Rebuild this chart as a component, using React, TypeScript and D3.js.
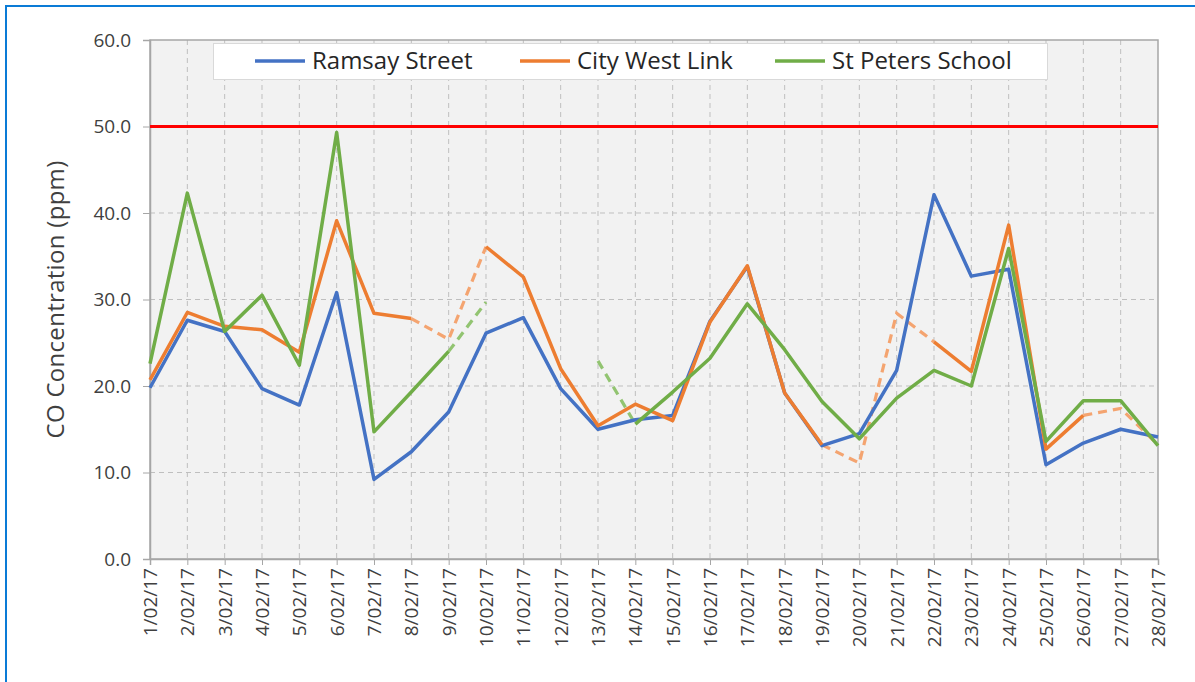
import React, { useRef, useEffect } from 'react';
import * as d3 from 'd3';

const dates = [
  '1/02/17', '2/02/17', '3/02/17', '4/02/17', '5/02/17', '6/02/17', '7/02/17',
  '8/02/17', '9/02/17', '10/02/17', '11/02/17', '12/02/17', '13/02/17', '14/02/17',
  '15/02/17', '16/02/17', '17/02/17', '18/02/17', '19/02/17', '20/02/17', '21/02/17',
  '22/02/17', '23/02/17', '24/02/17', '25/02/17', '26/02/17', '27/02/17', '28/02/17',
];

const ramsay = [
  19.8, 27.6, 26.3, 19.7, 17.8, 30.8, 9.2, 12.4, 17.0, 26.1, 27.9, 19.7, 15.0, 16.1,
  16.6, 27.5, 33.8, 19.2, 13.1, 14.5, 21.8, 42.1, 32.7, 33.5, 10.9, 13.4, 15.0, 14.1,
];

const cityWest = [
  20.7, 28.5, 26.9, 26.5, 23.9, 39.1, 28.4, 27.8, null, 36.1, 32.6, 22.0, 15.4, 17.9,
  16.0, 27.4, 33.9, 19.2, 13.2, null, null, 25.1, 21.7, 38.6, 12.7, 16.6, null, null,
];

const cityWestDashed = [
  null, null, null, null, null, null, null, 27.8, 25.4, 36.1, null, null, null, null,
  null, null, null, null, 13.2, 11.1, 28.4, 25.1, null, null, null, 16.6, 17.4, 13.2,
];

const stPeters = [
  22.6, 42.3, 26.3, 30.5, 22.4, 49.3, 14.7, 19.3, 24.0, null, null, null, null, 15.6,
  19.3, 23.2, 29.5, 24.2, 18.2, 13.9, 18.6, 21.8, 20.0, 35.9, 13.6, 18.3, 18.3, 13.1,
];

const stPetersDashed = [
  null, null, null, null, null, null, null, null, 24.0, 29.7, null, null, 22.9, 15.6,
  null, null, null, null, null, null, null, null, null, null, null, null, null, null,
];

const yTicks = [0, 10, 20, 30, 40, 50, 60];
const limit = 50;

const seriesNames = ['Ramsay Street', 'City West Link', 'St Peters School'];
const colors = ['#4472c4', '#ed7d31', '#70ad47'];
const dashedColors = ['#4472c4', '#f4a470', '#92c471'];

const FONT = '"Open Sans", sans-serif';

const Chart = ({ width, height }) => {
  const ref = useRef(null);

  useEffect(() => {
    const svg = d3.select(ref.current)
      .attr('width', width)
      .attr('height', height)
      .style('display', 'block');

    svg.selectAll('*').remove();

    const left = 150, right = 1158, top = 40, bottom = 559;

    const x = d3.scalePoint()
      .domain(dates)
      .range([left, right]);

    const y = d3.scaleLinear()
      .domain([0, 60])
      .range([bottom, top]);

    svg.append('rect')
      .attr('x', left).attr('y', top)
      .attr('width', right - left).attr('height', bottom - top)
      .attr('fill', '#f2f2f2');

    // grid
    svg.append('g')
      .selectAll('line')
      .data(yTicks.filter((t) => t > 0 && t < 60))
      .enter()
      .append('line')
      .attr('x1', left).attr('x2', right)
      .attr('y1', (d) => y(d)).attr('y2', (d) => y(d))
      .attr('stroke', '#bfbfbf')
      .attr('stroke-width', 1)
      .attr('stroke-dasharray', '5,4');

    svg.append('g')
      .selectAll('line')
      .data(dates.slice(1, -1))
      .enter()
      .append('line')
      .attr('x1', (d) => x(d)).attr('x2', (d) => x(d))
      .attr('y1', top).attr('y2', bottom)
      .attr('stroke', '#bfbfbf')
      .attr('stroke-width', 1)
      .attr('stroke-dasharray', '5,4');

    // plot border
    svg.append('rect')
      .attr('x', left).attr('y', top)
      .attr('width', right - left).attr('height', bottom - top)
      .attr('fill', 'none')
      .attr('stroke', '#a6a6a6')
      .attr('stroke-width', 1.5);

    // y axis
    const yAxis = svg.append('g')
      .attr('transform', `translate(${left}, 0)`)
      .call(d3.axisLeft(y).tickValues(yTicks).tickSize(7).tickPadding(12).tickFormat(d3.format('.1f')));
    yAxis.select('.domain').attr('stroke', '#a6a6a6').attr('stroke-width', 1.5);
    yAxis.selectAll('.tick line').attr('stroke', '#a6a6a6');
    yAxis.selectAll('.tick text')
      .attr('fill', '#404040')
      .style('font-family', FONT)
      .style('font-size', '19px');

    // x axis
    const xAxis = svg.append('g')
      .attr('transform', `translate(0, ${bottom})`)
      .call(d3.axisBottom(x).tickSize(6).tickPadding(6));
    xAxis.select('.domain').attr('stroke', '#a6a6a6').attr('stroke-width', 1.5);
    xAxis.selectAll('.tick line').attr('stroke', '#a6a6a6');
    xAxis.selectAll('.tick text')
      .attr('fill', '#404040')
      .attr('transform', 'rotate(-90)')
      .attr('text-anchor', 'end')
      .attr('x', -9)
      .attr('y', 0)
      .attr('dy', '0.35em')
      .style('font-family', FONT)
      .style('font-size', '19px');

    svg.append('text')
      .attr('transform', `translate(64, ${(top + bottom) / 2}) rotate(-90)`)
      .attr('text-anchor', 'middle')
      .attr('fill', '#404040')
      .style('font-family', FONT)
      .style('font-size', '24px')
      .style('letter-spacing', '0.3px')
      .text('CO Concentration (ppm)');

    // limit line
    svg.append('line')
      .attr('x1', left).attr('x2', right)
      .attr('y1', y(limit)).attr('y2', y(limit))
      .attr('stroke', '#ff0000')
      .attr('stroke-width', 3);

    const line = d3.line()
      .defined((d) => d != null)
      .x((d, i) => x(dates[i]))
      .y((d) => y(d));

    const dashedSeries = [null, cityWestDashed, stPetersDashed];
    dashedSeries.forEach((s, k) => {
      if (!s) return;
      svg.append('path')
        .datum(s)
        .attr('d', line)
        .attr('fill', 'none')
        .attr('stroke', dashedColors[k])
        .attr('stroke-width', 3.2)
        .attr('stroke-dasharray', '9,6');
    });

    [ramsay, cityWest, stPeters].forEach((s, k) => {
      svg.append('path')
        .datum(s)
        .attr('d', line)
        .attr('fill', 'none')
        .attr('stroke', colors[k])
        .attr('stroke-width', 3.5)
        .attr('stroke-linejoin', 'round');
    });

    // legend
    const legend = svg.append('g');
    legend.append('rect')
      .attr('x', 213.5).attr('y', 43.5)
      .attr('width', 834).attr('height', 36)
      .attr('fill', 'white')
      .attr('stroke', '#d9d9d9');

    const legendX = [255, 520, 775];
    seriesNames.forEach((name, k) => {
      legend.append('line')
        .attr('x1', legendX[k]).attr('x2', legendX[k] + 50)
        .attr('y1', 61).attr('y2', 61)
        .attr('stroke', colors[k])
        .attr('stroke-width', 3.5);
      legend.append('text')
        .attr('x', legendX[k] + 57)
        .attr('y', 61)
        .attr('dy', '0.35em')
        .attr('fill', '#262626')
        .style('font-family', FONT)
        .style('font-size', '24px')
        .text(name);
    });
  }, [width, height]);

  return <svg ref={ref}></svg>;
};

export default function App() {
  return (
    <div style={{ position: 'absolute', left: 0, top: 0, width: 1195, height: 682, overflow: 'hidden' }}>
      <Chart width={1195} height={682} />
      <div
        style={{
          position: 'absolute',
          left: 5,
          top: 5,
          width: 1250,
          height: 750,
          borderLeft: '2px solid #0a7bd6',
          borderTop: '2px solid #0a7bd6',
          pointerEvents: 'none',
        }}
      />
    </div>
  );
}
